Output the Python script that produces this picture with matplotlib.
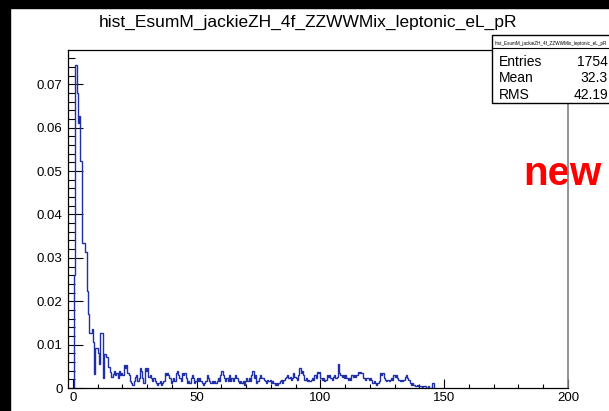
import numpy as np
import matplotlib
matplotlib.use('Agg')
import matplotlib.pyplot as plt
from matplotlib.patches import Rectangle
from matplotlib.lines import Line2D
from matplotlib.ticker import MultipleLocator

plt.rcParams['font.family'] = ['Liberation Sans', 'DejaVu Sans']

hist_name = 'hist_EsumM_jackieZH_4f_ZZWWMix_leptonic_eL_pR'
bin_start = 0.5
bin_width = 0.5

# bins 0.5 -> 15
peak = [0.0260, 0.0745, 0.0680, 0.0610, 0.0627, 0.0523, 0.0335, 0.0335, 0.0335, 0.0314,
        0.0223, 0.0170, 0.0126, 0.0126, 0.0136, 0.0107, 0.0032, 0.0092, 0.0092, 0.0080,
        0.0055, 0.0126, 0.0126, 0.0023, 0.0078, 0.0078, 0.0072, 0.0049, 0.0049]

# bins 15 -> 75.5
tail_low = [0.0038, 0.0026, 0.0032, 0.0040, 0.0029, 0.0034, 0.0023, 0.0040, 0.0029, 0.0034,
            0.0029, 0.0052, 0.0046, 0.0052, 0.0034, 0.0029, 0.0017, 0.0011, 0.0006, 0.0017,
            0.0026, 0.0029, 0.0017, 0.0023, 0.0046, 0.0040, 0.0023, 0.0011, 0.0046, 0.0040,
            0.0046, 0.0026, 0.0029, 0.0023, 0.0017, 0.0023, 0.0017, 0.0011, 0.0006, 0.0011,
            0.0017, 0.0006, 0.0011, 0.0017, 0.0034, 0.0029, 0.0034, 0.0029, 0.0023, 0.0011,
            0.0017, 0.0023, 0.0017, 0.0034, 0.0040, 0.0029, 0.0023, 0.0017, 0.0034, 0.0029,
            0.0034, 0.0023, 0.0011, 0.0017, 0.0011, 0.0023, 0.0029, 0.0023, 0.0011, 0.0017,
            0.0023, 0.0017, 0.0023, 0.0017, 0.0011, 0.0006, 0.0011, 0.0017, 0.0029, 0.0023,
            0.0017, 0.0011, 0.0017, 0.0011, 0.0017, 0.0011, 0.0017, 0.0023, 0.0017, 0.0029,
            0.0040, 0.0029, 0.0023, 0.0017, 0.0023, 0.0017, 0.0029, 0.0017, 0.0023, 0.0017,
            0.0023, 0.0029, 0.0023, 0.0017, 0.0011, 0.0017, 0.0011, 0.0017, 0.0006, 0.0017,
            0.0023, 0.0017, 0.0023, 0.0017, 0.0029, 0.0040, 0.0023, 0.0029, 0.0011, 0.0017,
            0.0023]

# bins 75.5 -> 146
tail_high = [0.0030, 0.0022, 0.0022, 0.0018, 0.0015, 0.0011, 0.0018, 0.0015, 0.0018, 0.0011,
             0.0015, 0.0011, 0.0007, 0.0011, 0.0007, 0.0011, 0.0015, 0.0018, 0.0011, 0.0018,
             0.0022, 0.0026, 0.0030, 0.0022, 0.0026, 0.0018, 0.0022, 0.0034, 0.0026, 0.0022,
             0.0018, 0.0030, 0.0046, 0.0034, 0.0040, 0.0030, 0.0018, 0.0022, 0.0015, 0.0018,
             0.0015, 0.0018, 0.0022, 0.0018, 0.0030, 0.0022, 0.0038, 0.0034, 0.0038, 0.0022,
             0.0018, 0.0022, 0.0015, 0.0018, 0.0030, 0.0026, 0.0030, 0.0022, 0.0018, 0.0026,
             0.0030, 0.0022, 0.0026, 0.0056, 0.0034, 0.0030, 0.0026, 0.0030, 0.0022, 0.0030,
             0.0022, 0.0018, 0.0022, 0.0018, 0.0030, 0.0026, 0.0030, 0.0026, 0.0030, 0.0038,
             0.0034, 0.0038, 0.0034, 0.0022, 0.0022, 0.0018, 0.0022, 0.0022, 0.0018, 0.0022,
             0.0018, 0.0011, 0.0015, 0.0011, 0.0007, 0.0011, 0.0015, 0.0034, 0.0030, 0.0034,
             0.0022, 0.0018, 0.0015, 0.0018, 0.0015, 0.0018, 0.0022, 0.0018, 0.0030, 0.0026,
             0.0030, 0.0022, 0.0018, 0.0015, 0.0018, 0.0015, 0.0018, 0.0026, 0.0030, 0.0022,
             0.0018, 0.0011, 0.0007, 0.0011, 0.0007, 0.0005, 0.0005, 0.0007, 0.0005, 0.0005,
             0.0005, 0.0000, 0.0005, 0.0005, 0.0000, 0.0000, 0.0005, 0.0000, 0.0000, 0.0011,
             0.0011]

stat_names = ['Entries', 'Mean', 'RMS']
stat_values = ['1754', '32.3', '42.19']

x_ticks = [0, 50, 100, 150, 200]
y_ticks = [0, 0.01, 0.02, 0.03, 0.04, 0.05, 0.06, 0.07]
y_labels = ['0', '0.01', '0.02', '0.03', '0.04', '0.05', '0.06', '0.07']

values = np.array(peak + tail_low + tail_high)
edges = bin_start + bin_width * np.arange(len(values) + 1)

W, H = 609, 411
fig = plt.figure(figsize=(W / 100, H / 100), dpi=100)

ax = fig.add_axes([68 / W, 23 / H, 500 / W, 338 / H])
ax.stairs(values, edges, baseline=0, color='#1f2fa8', lw=1.0, zorder=3)
ax.set_xlim(-2, 200)
ax.set_ylim(0, 0.0779)

ax.set_xticks(x_ticks)
ax.set_xticklabels([str(t) for t in x_ticks])
ax.set_yticks(y_ticks)
ax.set_yticklabels(y_labels)
ax.xaxis.set_minor_locator(MultipleLocator(10))
ax.yaxis.set_minor_locator(MultipleLocator(0.002))
ax.tick_params(axis='x', which='major', direction='in', length=6.5, width=0.8, labelsize=9.5, pad=3)
ax.tick_params(axis='x', which='minor', direction='in', length=3.2, width=0.8)
ax.tick_params(axis='y', which='major', direction='in', length=11, width=0.8, labelsize=9.5, pad=4)
ax.tick_params(axis='y', which='minor', direction='in', length=5.2, width=0.8)
for side in ['top', 'left', 'bottom']:
    ax.spines[side].set_linewidth(0.9)
ax.spines['right'].set_color('#808080')
ax.spines['right'].set_linewidth(1.2)

# red label sitting behind the frame line
ax.text(523 / W, 1 - 185 / H, 'new', transform=fig.transFigure, color='#ff0000',
        fontsize=29, fontweight='bold', ha='left', va='baseline', zorder=1, clip_on=False)

fig.text(308 / W, 1 - 22 / H, hist_name, ha='center', va='center', fontsize=12.5)

# stats box, running off the right edge
box_top, box_bot, box_left = 35, 102.7, 492
fig.add_artist(Rectangle((box_left / W, 1 - box_bot / H), (640 - box_left) / W, (box_bot - box_top) / H,
                         transform=fig.transFigure, facecolor='white', edgecolor='black',
                         lw=1, zorder=5))
fig.add_artist(Line2D([box_left / W, 1.05], [1 - 48.3 / H, 1 - 48.3 / H],
                      transform=fig.transFigure, color='black', lw=0.8, zorder=6))
fig.text(495 / W, 1 - 43.5 / H, hist_name, fontsize=3.3, ha='left', va='center', zorder=7)
for k, (name, val) in enumerate(zip(stat_names, stat_values)):
    yy = 1 - (61.7 + 16.7 * k) / H
    fig.text(499 / W, yy, name, fontsize=10, ha='left', va='center', zorder=7)
    fig.text(608 / W, yy, val, fontsize=10, ha='right', va='center', zorder=7)

# black strips on the left and top edges
fig.add_artist(Rectangle((0, 0), 10 / W, 1, transform=fig.transFigure, color='black', zorder=10))
fig.add_artist(Rectangle((0, 1 - 8 / H), 1, 8 / H, transform=fig.transFigure, color='black', zorder=10))

fig.savefig('out.png', dpi=100)
